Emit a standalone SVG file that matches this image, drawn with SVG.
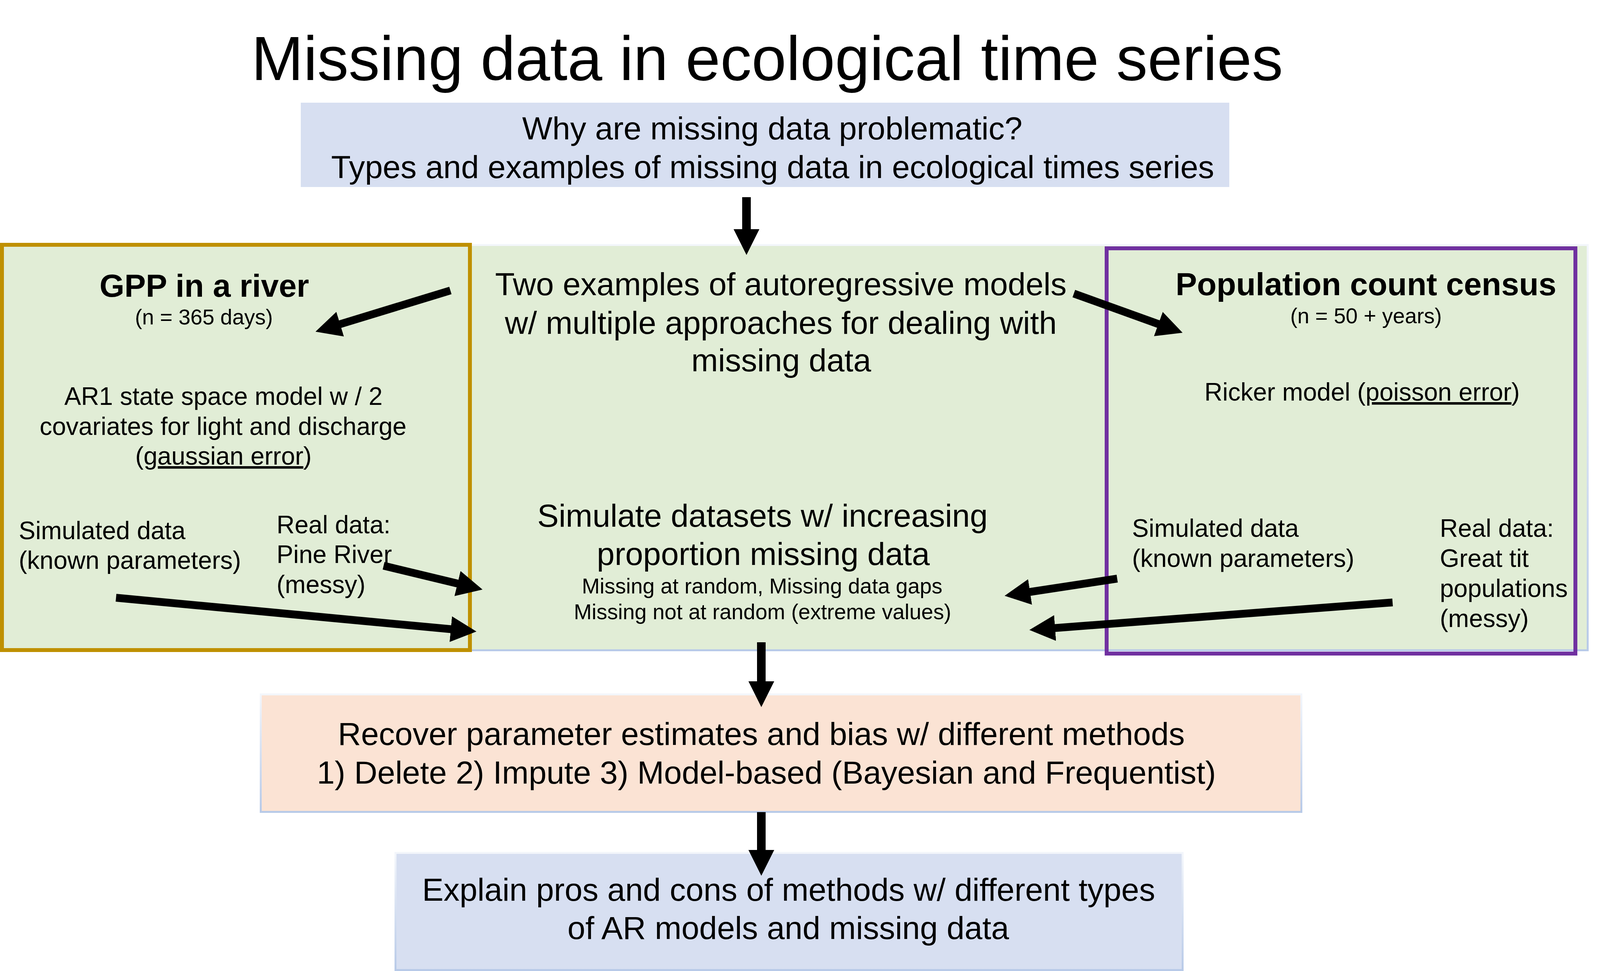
<svg xmlns="http://www.w3.org/2000/svg" width="4134" height="2487" viewBox="0 0 4134 2487">
<style>
text{font-family:"Liberation Sans",Arial,sans-serif;fill:#000}
.t{font-size:160px}
.m{font-size:82px}
.s{font-size:64px}
.x{font-size:55px}
.b{font-size:82px;font-weight:bold}
.c{text-anchor:middle}
.u{text-decoration:underline}
.box{stroke:url(#edge);stroke-width:5}
.arr{stroke:#000;stroke-width:20;fill:none;marker-end:url(#ah)}
.varr{stroke:#000;stroke-width:22;fill:none;marker-end:url(#ah)}
</style>
<defs>
<linearGradient id="edge" x1="0" y1="0" x2="0" y2="1">
<stop offset="0" stop-color="#F3F6FB"/>
<stop offset="1" stop-color="#B8CAE8"/>
</linearGradient>
<marker id="ah" markerUnits="userSpaceOnUse" viewBox="0 0 66 66" markerWidth="66" markerHeight="66" refX="6" refY="33" orient="auto">
<path d="M0,0 L66,33 L0,66 z" fill="#000"/>
</marker>
</defs>
<rect width="4134" height="2487" fill="#fff"/>
<text class="t c" x="1964" y="205">Missing data in ecological time series</text>
<g id="why">
<rect x="770" y="263" width="2377" height="216" fill="#D7DFF1"/>
<text class="m c" x="1977" y="357">Why are missing data problematic?</text>
<text class="m c" x="1978" y="456">Types and examples of missing data in ecological times series</text>
</g>
<g id="models">
<rect class="box" x="5" y="627.5" width="4059.5" height="1038" fill="#E1EDD6"/>
<text class="m c" x="1999" y="756">Two examples of autoregressive models</text>
<text class="m c" x="1999" y="855">w/ multiple approaches for dealing with</text>
<text class="m c" x="2000" y="951">missing data</text>
</g>
<g id="simulate">
<text class="m c" x="1952" y="1349">Simulate datasets w/ increasing</text>
<text class="m c" x="1954" y="1447">proportion missing data</text>
<text class="x c" x="1951" y="1520">Missing at random, Missing data gaps</text>
<text class="x c" x="1952" y="1586">Missing not at random (extreme values)</text>
</g>
<g id="gpp">
<rect x="5" y="627" width="1198" height="1038" fill="none" stroke="#BF9000" stroke-width="10"/>
<text class="b c" x="523" y="760">GPP in a river</text>
<text class="x c" x="522" y="831">(n = 365 days)</text>
<text class="s c" x="572" y="1037">AR1 state space model w / 2</text>
<text class="s c" x="571" y="1114">covariates for light and discharge</text>
<text class="s c" x="572" y="1190">(<tspan class="u">gaussian error</tspan>)</text>
<text class="s" x="48" y="1381">Simulated data</text>
<text class="s" x="48" y="1457">(known parameters)</text>
<text class="s" x="708" y="1366">Real data:</text>
<text class="s" x="708" y="1442">Pine River</text>
<text class="s" x="708" y="1519">(messy)</text>
</g>
<g id="population">
<rect x="2833" y="636" width="1200" height="1038" fill="none" stroke="#7030A0" stroke-width="10"/>
<text class="b c" x="3497" y="756">Population count census</text>
<text class="x c" x="3497" y="828">(n = 50 + years)</text>
<text class="s c" x="3487" y="1026">Ricker model (<tspan class="u">poisson error</tspan>)</text>
<text class="s" x="2898" y="1375">Simulated data</text>
<text class="s" x="2898" y="1452">(known parameters)</text>
<text class="s" x="3686" y="1375">Real data:</text>
<text class="s" x="3686" y="1452">Great tit</text>
<text class="s" x="3686" y="1529">populations</text>
<text class="s" x="3686" y="1606">(messy)</text>
</g>
<g id="recover">
<rect class="box" x="667.5" y="1778.5" width="2664" height="301" fill="#FBE3D4"/>
<text class="m c" x="1949" y="1908">Recover parameter estimates and bias w/ different methods</text>
<text class="m c" x="1962" y="2007">1) Delete 2) Impute 3) Model-based (Bayesian and Frequentist)</text>
</g>
<g id="explain">
<rect class="box" x="1012.5" y="2184.5" width="2015" height="300" fill="#D7DFF1"/>
<text class="m c" x="2019" y="2307">Explain pros and cons of methods w/ different types</text>
<text class="m c" x="2018" y="2405">of AR models and missing data</text>
</g>
<g id="connectors">
<line class="varr" x1="1911" y1="505" x2="1911" y2="593"/>
<line class="varr" x1="1949" y1="1645" x2="1949" y2="1751"/>
<line class="varr" x1="1949" y1="2080" x2="1949" y2="2183"/>
<line class="arr" x1="1153" y1="744" x2="865" y2="832"/>
<line class="arr" x1="982" y1="1449" x2="1177" y2="1496"/>
<line class="arr" x1="297" y1="1531" x2="1160" y2="1612"/>
<line class="arr" x1="2749" y1="752" x2="2971" y2="832"/>
<line class="arr" x1="2860" y1="1482" x2="2631" y2="1517"/>
<line class="arr" x1="3565" y1="1543" x2="2695" y2="1609"/>
</g>
</svg>
